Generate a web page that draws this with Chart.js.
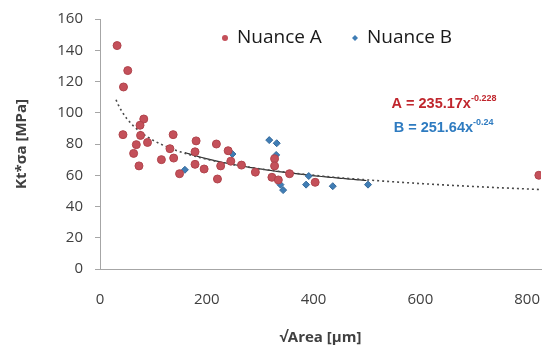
<!DOCTYPE html>
<html>
<head>
<meta charset="utf-8">
<script src="https://cdn.jsdelivr.net/npm/chart.js@4"></script>
<style>
  html, body { margin: 0; padding: 0; background: #fff; }
  #wrap { width: 546px; height: 347px; }
</style>
</head>
<body>
<div id="wrap"><canvas id="chart" width="546" height="347"></canvas></div>
<script>
// Nuance A (red circles)
const nuanceAX = [32, 52, 44, 43, 82, 75, 76, 68, 89, 63, 73, 137, 131, 115, 138, 149, 180, 178, 178, 195, 218, 240, 245, 226, 220, 265, 291, 327, 327, 322, 334, 355, 403, 822];
const nuanceAY = [143, 127, 116.5, 86, 96, 92, 85.5, 79.6, 81, 74, 66, 86, 77, 70, 71, 61, 82, 75, 67, 64, 80, 75.7, 69, 66, 57.6, 66.5, 62, 70.6, 66, 58.7, 57, 61, 55.5, 60];
// Nuance B (blue diamonds)
const nuanceBX = [159, 248, 317, 331, 330, 338, 343, 386, 391, 436, 502];
const nuanceBY = [63.5, 73.6, 82.5, 80.5, 73, 54, 50.5, 54, 59.5, 53, 54];
// power fits shown on the chart: y = a * x^b
const fitA = [235.17, -0.228];
const fitB = [251.64, -0.24];
const fitRangeA = [30, 830];
const fitRangeB = [159, 502];
const xTicks = [0, 200, 400, 600, 800];

const colorA = "#C4505A";
const colorB = "#3F7DB5";

function pts(xs, ys) {
  return xs.map((x, i) => ({ x: x, y: ys[i] }));
}
function fitLine(fit, range) {
  const out = [];
  for (let x = range[0]; x <= range[1]; x += 4) {
    out.push({ x: x, y: fit[0] * Math.pow(x, fit[1]) });
  }
  return out;
}

const baseFamily = "'Open Sans', 'Liberation Sans', sans-serif";
const tickFont = { family: baseFamily, size: 15 };
const titleFont = { family: baseFamily, size: 15, weight: "bold" };

// legend + equation labels drawn on top of the plot
const overlay = {
  id: "overlay",
  afterDraw(chart) {
    const ctx = chart.ctx;
    const xs = chart.scales.x, ys = chart.scales.y;
    ctx.save();
    ctx.textBaseline = "middle";

    // legend
    const ly = 38;
    const items = [
      { text: "Nuance A", style: "circle", color: colorA, x: 225 },
      { text: "Nuance B", style: "rectRot", color: colorB, x: 355 }
    ];
    ctx.font = "19px " + baseFamily;
    items.forEach(it => {
      ctx.fillStyle = it.color;
      Chart.helpers.drawPoint(ctx, { pointStyle: it.style, radius: 3, borderWidth: 0 }, it.x, ly);
      ctx.fillStyle = "#1a1a1a";
      ctx.fillText(it.text, it.x + 12, ly);
    });

    // equations
    const rows = [
      { main: "A = 235.17x", sup: "-0.228", color: "#C0262D", x: 546, y: 105.5 },
      { main: "B = 251.64x", sup: "-0.24", color: "#2E7BC0", x: 550, y: 90 }
    ];
    rows.forEach(r => {
      const px = xs.getPixelForValue(r.x);
      const py = ys.getPixelForValue(r.y);
      ctx.fillStyle = r.color;
      ctx.font = "bold 14.5px 'Liberation Sans Narrow', 'Liberation Sans', sans-serif";
      ctx.fillText(r.main, px, py);
      const w = ctx.measureText(r.main).width;
      ctx.font = "bold 9px 'Liberation Sans Narrow', 'Liberation Sans', sans-serif";
      ctx.fillText(r.sup, px + w, py - 6);
    });
    ctx.restore();
  }
};

new Chart(document.getElementById("chart").getContext("2d"), {
  type: "scatter",
  data: {
    datasets: [
      {
        label: "Nuance A",
        data: pts(nuanceAX, nuanceAY),
        backgroundColor: colorA,
        borderColor: "#B0444C",
        borderWidth: 1,
        pointRadius: 4,
        pointStyle: "circle"
      },
      {
        label: "Nuance B",
        data: pts(nuanceBX, nuanceBY),
        backgroundColor: colorB,
        borderColor: "#35699A",
        borderWidth: 1,
        pointRadius: 3.5,
        pointStyle: "rectRot"
      },
      {
        label: "fitA",
        data: fitLine(fitA, fitRangeA),
        showLine: true,
        pointRadius: 0,
        borderColor: "#4A4A4A",
        borderWidth: 1.6,
        borderDash: [2, 3],
        fill: false
      },
      {
        label: "fitB",
        data: fitLine(fitB, fitRangeB),
        showLine: true,
        pointRadius: 0,
        borderColor: "#303030",
        borderWidth: 1.2,
        fill: false
      }
    ]
  },
  options: {
    responsive: false,
    animation: false,
    layout: { padding: { top: 19, right: 0, left: 0, bottom: 0 } },
    plugins: {
      tooltip: { enabled: false },
      legend: { display: false }
    },
    scales: {
      x: {
        type: "linear",
        min: 0,
        max: 826,
        afterBuildTicks: s => { s.ticks = xTicks.map(v => ({ value: v })); },
        afterFit: s => { s.height = 78; s.paddingLeft = 0; s.paddingRight = 0; },
        grid: { drawOnChartArea: false, drawTicks: false, color: "#A6A6A6" },
        border: { color: "#A6A6A6", width: 1 },
        ticks: { color: "#404040", font: tickFont, padding: 22, maxRotation: 0 },
        title: { display: true, text: "\u221AArea [\u00B5m]", color: "#404040", font: titleFont, padding: { top: 0, bottom: 0 } }
      },
      y: {
        min: 0,
        max: 160,
        ticks: { stepSize: 20, color: "#404040", font: tickFont, padding: 12 },
        afterFit: s => { s.width = 100; s.paddingTop = 0; s.paddingBottom = 0; },
        grid: { drawOnChartArea: false, tickLength: 5, color: "#A6A6A6" },
        border: { color: "#A6A6A6", width: 1 },
        title: { display: true, text: "Kt*\u03C3a [MPa]", color: "#404040", font: titleFont, padding: { top: 13, bottom: 0 } }
      }
    }
  },
  plugins: [overlay]
});
</script>
</body>
</html>
